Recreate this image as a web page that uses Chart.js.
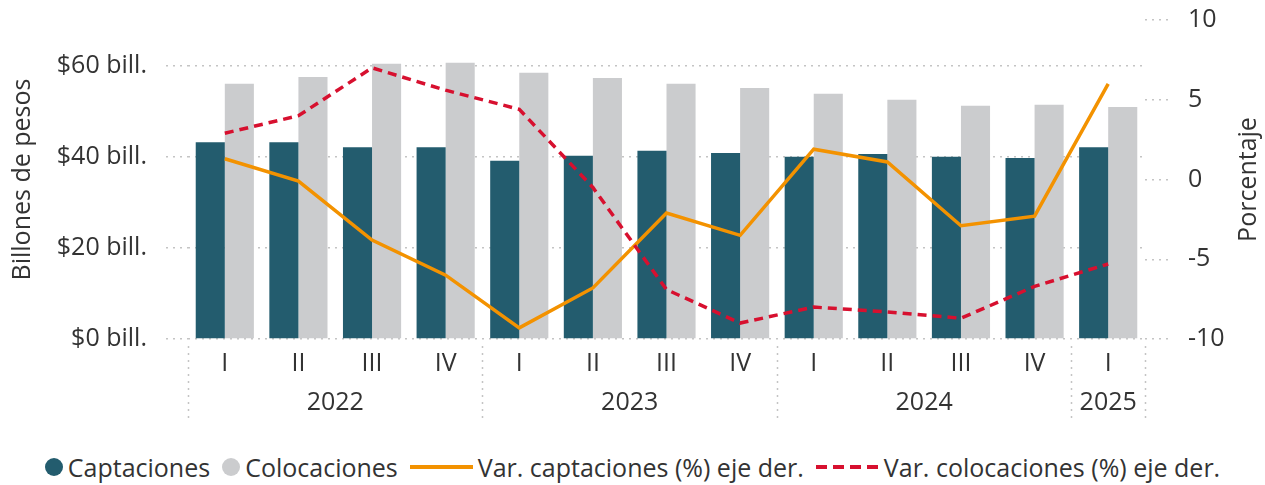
<!DOCTYPE html>
<html>
<head>
<meta charset="utf-8">
<script src="https://cdn.jsdelivr.net/npm/chart.js@4"></script>
<style>
  body { margin: 0; background: #fff; font-family: "Open Sans", sans-serif; }
  #wrap { position: relative; width: 1265px; height: 440px; }
  #leyenda { display: flex; justify-content: center; align-items: center; padding-top: 4px; box-sizing: border-box; height: 50px; font-size: 25px; color: #333; }
  .item { display: flex; align-items: center; margin: 0 6px; }
  .marca { display: inline-block; margin-right: 5px; }
  .circulo { width: 18px; height: 18px; border-radius: 50%; }
  .linea { width: 63px; height: 4px; }
</style>
</head>
<body>
<div id="wrap"><canvas id="grafico"></canvas></div>
<div id="leyenda"></div>
<script>
// datos
const trimestres = ["I", "II", "III", "IV", "I", "II", "III", "IV", "I", "II", "III", "IV", "I"];
const anios = ["2022", "2023", "2024", "2025"];
const trimestresPorAnio = [4, 4, 4, 1];

const captaciones = [43.2, 43.2, 42.1, 42.1, 39.1, 40.2, 41.3, 40.8, 40.0, 40.6, 40.0, 39.7, 42.1];
const colocaciones = [56.0, 57.5, 60.4, 60.6, 58.4, 57.3, 56.0, 55.1, 53.8, 52.5, 51.2, 51.4, 50.9];
const varCaptaciones = [1.3, -0.1, -3.8, -6.0, -9.3, -6.8, -2.1, -3.5, 1.9, 1.1, -2.9, -2.3, 6.0];
const varColocaciones = [2.9, 4.0, 7.0, 5.6, 4.4, -0.5, -6.9, -9.0, -8.0, -8.3, -8.7, -6.7, -5.3];

const ticksIzq = [0, 20, 40, 60];

const colores = {
  captaciones: "#235C6E",
  colocaciones: "#CBCCCE",
  varCap: "#F39200",
  varCol: "#D7102F",
};
const gris = "#c4c4c4";
const texto = "#333333";

// centros y límites de cada año en índices de trimestre
const limites = [0];
trimestresPorAnio.forEach((n) => limites.push(limites[limites.length - 1] + n));
const centrosAnio = trimestresPorAnio.map((n, i) => limites[i] + (n - 1) / 2);

Chart.defaults.font.family = "'Open Sans', sans-serif";
Chart.defaults.font.size = 25;
Chart.defaults.color = texto;

// separadores punteados entre años
const separadores = {
  id: "separadores",
  afterDraw(chart) {
    const x2 = chart.scales.x2;
    const ctx = chart.ctx;
    const base = chart.chartArea.bottom;
    ctx.save();
    ctx.strokeStyle = gris;
    ctx.lineWidth = 1.5;
    ctx.setLineDash([2, 5]);
    limites.forEach((b) => {
      const x = Math.round(x2.getPixelForValue(b - 0.5)) + 0.5;
      ctx.beginPath();
      ctx.moveTo(x, base + 7);
      ctx.lineTo(x, base + 83);
      ctx.stroke();
    });
    ctx.restore();
  },
};

// título del eje derecho, leído de abajo hacia arriba
const tituloDer = {
  id: "tituloDer",
  afterDraw(chart) {
    const area = chart.chartArea;
    const y1 = chart.scales.y1;
    const ctx = chart.ctx;
    ctx.save();
    ctx.translate(y1.right - 16, (area.top + area.bottom) / 2);
    ctx.rotate(-Math.PI / 2);
    ctx.font = "25px 'Open Sans', sans-serif";
    ctx.fillStyle = texto;
    ctx.textAlign = "center";
    ctx.textBaseline = "middle";
    ctx.fillText("Porcentaje", 0, 0);
    ctx.restore();
  },
};

const gridPunteado = {
  color: gris,
  lineWidth: 1.5,
  tickColor: gris,
  tickWidth: 1.5,
  tickBorderDash: [2, 5],
};

// sin relleno extra por las etiquetas de los extremos
const sinRelleno = (ancho) => (s) => {
  s.width = ancho;
  s.paddingTop = 0;
  s.paddingBottom = 0;
};

new Chart(document.getElementById("grafico"), {
  type: "bar",
  data: {
    labels: trimestres,
    datasets: [
      {
        label: "Var. colocaciones (%) eje der.",
        type: "line",
        data: varColocaciones,
        yAxisID: "y1",
        borderColor: colores.varCol,
        borderWidth: 3.5,
        borderDash: [9, 6],
        pointRadius: 0,
        tension: 0,
        order: 0,
      },
      {
        label: "Var. captaciones (%) eje der.",
        type: "line",
        data: varCaptaciones,
        yAxisID: "y1",
        borderColor: colores.varCap,
        borderWidth: 3.5,
        pointRadius: 0,
        tension: 0,
        order: 1,
      },
      {
        label: "Captaciones",
        data: captaciones,
        backgroundColor: colores.captaciones,
        categoryPercentage: 0.79,
        barPercentage: 1,
        order: 2,
      },
      {
        label: "Colocaciones",
        data: colocaciones,
        backgroundColor: colores.colocaciones,
        categoryPercentage: 0.79,
        barPercentage: 1,
        order: 3,
      },
    ],
  },
  options: {
    responsive: true,
    maintainAspectRatio: false,
    animation: false,
    layout: { padding: { top: 20, bottom: 19, left: 0, right: 0 } },
    plugins: {
      legend: { display: false },
      tooltip: { enabled: false },
    },
    scales: {
      x: {
        grid: { display: false, drawTicks: false },
        border: { display: false },
        ticks: { padding: 10, maxRotation: 0, autoSkip: false },
        afterFit: (s) => { s.height = 42; },
      },
      x2: {
        type: "linear",
        position: "bottom",
        offset: false,
        min: -0.5,
        max: 12.5,
        grid: { display: false, drawTicks: false, offset: false },
        border: { display: false },
        ticks: {
          padding: 7,
          maxRotation: 0,
          autoSkip: false,
          callback: (v, i) => anios[i],
        },
        afterBuildTicks: (s) => { s.ticks = centrosAnio.map((v) => ({ value: v })); },
        afterFit: (s) => { s.height = 40; },
      },
      y: {
        position: "left",
        min: 0,
        max: 70,
        ticks: {
          stepSize: 20,
          padding: 19,
          callback: (v) => "$" + v + " bill.",
        },
        afterBuildTicks: (s) => { s.ticks = ticksIzq.map((v) => ({ value: v })); },
        grid: Object.assign({ tickLength: 22 }, gridPunteado),
        border: { display: false, dash: [2, 5] },
        title: {
          display: true,
          text: "Billones de pesos",
          padding: { top: 8, bottom: 0 },
        },
        afterFit: sinRelleno(188),
      },
      y1: {
        position: "right",
        min: -10,
        max: 10,
        ticks: { stepSize: 5, padding: 19 },
        grid: Object.assign({ drawOnChartArea: false, tickLength: 24 }, gridPunteado),
        border: { display: false, dash: [2, 5] },
        afterFit: sinRelleno(120),
      },
    },
  },
  plugins: [separadores, tituloDer],
});

// leyenda en HTML
const itemsLeyenda = [
  { texto: "Captaciones", tipo: "circulo", color: colores.captaciones },
  { texto: "Colocaciones", tipo: "circulo", color: colores.colocaciones },
  { texto: "Var. captaciones (%) eje der.", tipo: "linea", color: colores.varCap },
  { texto: "Var. colocaciones (%) eje der.", tipo: "guiones", color: colores.varCol },
];
const leyenda = document.getElementById("leyenda");
itemsLeyenda.forEach((it) => {
  const div = document.createElement("div");
  div.className = "item";
  const m = document.createElement("span");
  m.className = "marca " + (it.tipo === "circulo" ? "circulo" : "linea");
  if (it.tipo === "guiones") {
    m.style.background = `repeating-linear-gradient(to right, ${it.color} 0 11px, transparent 11px 17px)`;
  } else {
    m.style.background = it.color;
  }
  const t = document.createElement("span");
  t.textContent = it.texto;
  div.appendChild(m);
  div.appendChild(t);
  leyenda.appendChild(div);
});
</script>
</body>
</html>
